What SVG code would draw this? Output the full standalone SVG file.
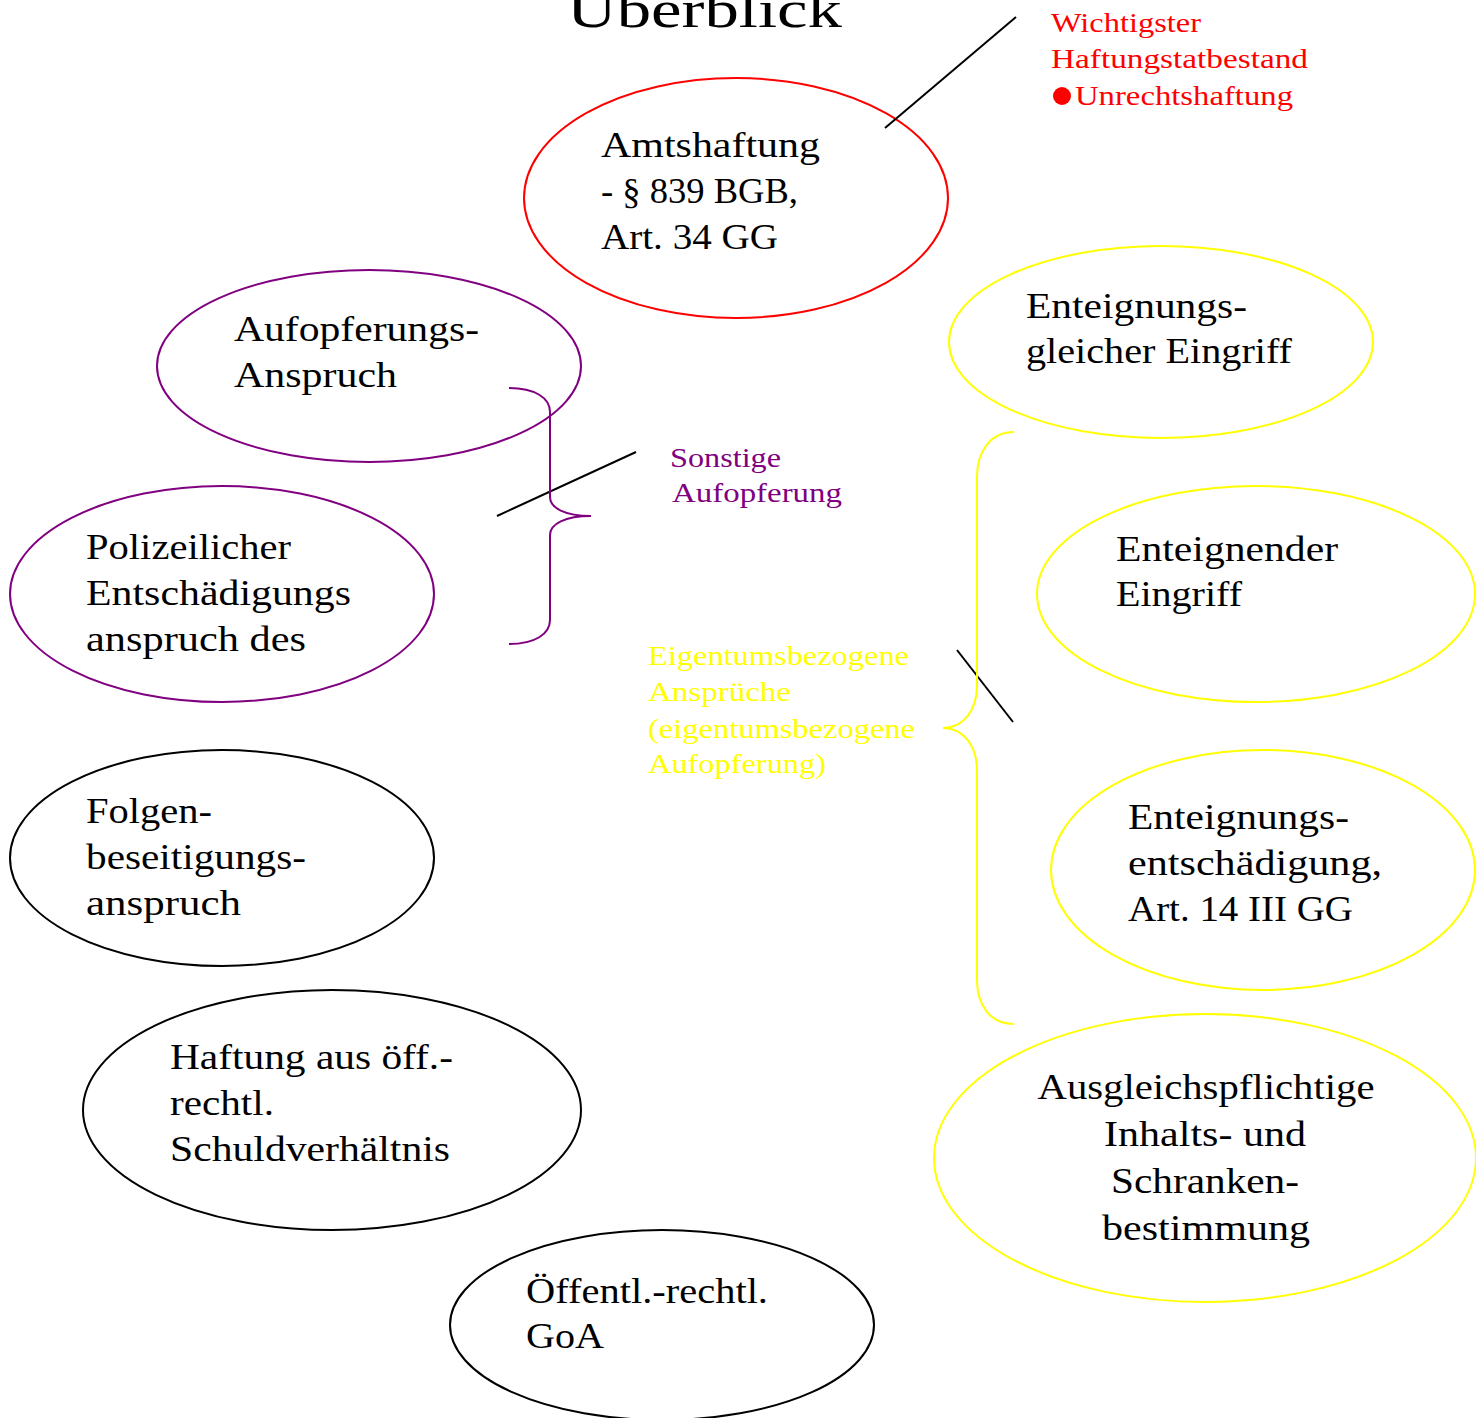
<svg xmlns="http://www.w3.org/2000/svg" width="1476" height="1418" viewBox="0 0 1476 1418">
<style>
.n{font-family:"Liberation Serif","Times New Roman",serif;font-size:36px;fill:#000}
.s{font-family:"Liberation Serif","Times New Roman",serif;font-size:27px}
.e{fill:none;stroke-width:2}
.red{stroke:#FF0000}.pur{stroke:#800080}.yel{stroke:#FFFF00}.blk{stroke:#000}
</style>
<rect width="1476" height="1418" fill="#fff"/>
<text x="567" y="27" font-family="Liberation Serif, serif" font-size="52" textLength="275" lengthAdjust="spacingAndGlyphs">Überblick</text>
<g id="amtshaftung">
<ellipse class="e red" cx="736" cy="198" rx="212" ry="120"/>
<text class="n"><tspan x="601" y="157" textLength="219" lengthAdjust="spacingAndGlyphs">Amtshaftung</tspan><tspan x="601" y="203" textLength="197" lengthAdjust="spacingAndGlyphs">- § 839 BGB,</tspan><tspan x="601" y="249" textLength="177" lengthAdjust="spacingAndGlyphs">Art. 34 GG</tspan></text>
</g>
<g id="aufopferung">
<ellipse class="e pur" cx="369" cy="366" rx="212" ry="96"/>
<text class="n"><tspan x="234" y="341" textLength="245" lengthAdjust="spacingAndGlyphs">Aufopferungs-</tspan><tspan x="234" y="387" textLength="163" lengthAdjust="spacingAndGlyphs">Anspruch</tspan></text>
</g>
<g id="polizei">
<ellipse class="e pur" cx="222" cy="594" rx="212" ry="108"/>
<text class="n"><tspan x="86" y="559" textLength="205" lengthAdjust="spacingAndGlyphs">Polizeilicher</tspan><tspan x="86" y="605" textLength="265" lengthAdjust="spacingAndGlyphs">Entschädigungs</tspan><tspan x="86" y="651" textLength="220" lengthAdjust="spacingAndGlyphs">anspruch des</tspan></text>
</g>
<g id="folgen">
<ellipse class="e blk" cx="222" cy="858" rx="212" ry="108"/>
<text class="n"><tspan x="86" y="823" textLength="126" lengthAdjust="spacingAndGlyphs">Folgen-</tspan><tspan x="86" y="869" textLength="220" lengthAdjust="spacingAndGlyphs">beseitigungs-</tspan><tspan x="86" y="915" textLength="155" lengthAdjust="spacingAndGlyphs">anspruch</tspan></text>
</g>
<g id="haftung">
<ellipse class="e blk" cx="332" cy="1110" rx="249" ry="120"/>
<text class="n"><tspan x="170" y="1069" textLength="283" lengthAdjust="spacingAndGlyphs">Haftung aus öff.-</tspan><tspan x="170" y="1115" textLength="104" lengthAdjust="spacingAndGlyphs">rechtl.</tspan><tspan x="170" y="1161" textLength="280" lengthAdjust="spacingAndGlyphs">Schuldverhältnis</tspan></text>
</g>
<g id="goa">
<ellipse class="e blk" cx="662" cy="1325" rx="212" ry="95"/>
<text class="n"><tspan x="526" y="1303" textLength="242" lengthAdjust="spacingAndGlyphs">Öffentl.-rechtl.</tspan><tspan x="526" y="1348" textLength="78" lengthAdjust="spacingAndGlyphs">GoA</tspan></text>
</g>
<g id="enteignungsgleich">
<ellipse class="e yel" cx="1161" cy="342" rx="212" ry="96"/>
<text class="n"><tspan x="1026" y="318" textLength="221" lengthAdjust="spacingAndGlyphs">Enteignungs-</tspan><tspan x="1026" y="363" textLength="266" lengthAdjust="spacingAndGlyphs">gleicher Eingriff</tspan></text>
</g>
<g id="enteignend">
<ellipse class="e yel" cx="1256" cy="594" rx="219" ry="108"/>
<text class="n"><tspan x="1116" y="561" textLength="222" lengthAdjust="spacingAndGlyphs">Enteignender</tspan><tspan x="1116" y="606" textLength="126" lengthAdjust="spacingAndGlyphs">Eingriff</tspan></text>
</g>
<g id="enteignungsentschaedigung">
<ellipse class="e yel" cx="1263" cy="870" rx="212" ry="120"/>
<text class="n"><tspan x="1128" y="829" textLength="221" lengthAdjust="spacingAndGlyphs">Enteignungs-</tspan><tspan x="1128" y="875" textLength="254" lengthAdjust="spacingAndGlyphs">entschädigung,</tspan><tspan x="1128" y="921" textLength="225" lengthAdjust="spacingAndGlyphs">Art. 14 III GG</tspan></text>
</g>
<g id="ausgleich">
<ellipse class="e yel" cx="1205" cy="1158" rx="271" ry="144"/>
<text class="n" text-anchor="middle"><tspan x="1206" y="1099" textLength="337" lengthAdjust="spacingAndGlyphs">Ausgleichspflichtige</tspan><tspan x="1205" y="1146" textLength="202" lengthAdjust="spacingAndGlyphs">Inhalts- und</tspan><tspan x="1205" y="1193" textLength="188" lengthAdjust="spacingAndGlyphs">Schranken-</tspan><tspan x="1206" y="1240" textLength="208" lengthAdjust="spacingAndGlyphs">bestimmung</tspan></text>
</g>
<g id="label-wichtig">
<text class="s" fill="#FF0000"><tspan x="1051" y="32" textLength="150" lengthAdjust="spacingAndGlyphs">Wichtigster</tspan><tspan x="1051" y="68" textLength="257" lengthAdjust="spacingAndGlyphs">Haftungstatbestand</tspan><tspan x="1075" y="105" textLength="218" lengthAdjust="spacingAndGlyphs">Unrechtshaftung</tspan></text>
<circle cx="1062" cy="96" r="9" fill="#FF0000"/>
</g>
<g id="label-sonstige">
<text class="s" fill="#800080"><tspan x="670" y="467" textLength="111" lengthAdjust="spacingAndGlyphs">Sonstige</tspan><tspan x="672" y="502" textLength="170" lengthAdjust="spacingAndGlyphs">Aufopferung</tspan></text>
</g>
<g id="label-eigentum">
<text class="s" fill="#FFFF00"><tspan x="648" y="665" textLength="261" lengthAdjust="spacingAndGlyphs">Eigentumsbezogene</tspan><tspan x="648" y="701" textLength="143" lengthAdjust="spacingAndGlyphs">Ansprüche</tspan><tspan x="648" y="738" textLength="267" lengthAdjust="spacingAndGlyphs">(eigentumsbezogene</tspan><tspan x="648" y="773" textLength="178" lengthAdjust="spacingAndGlyphs">Aufopferung)</tspan></text>
</g>
<g id="connectors" fill="none" stroke-width="2">
<line x1="885" y1="128" x2="1016" y2="17" stroke="#000"/>
<line x1="497" y1="516" x2="636" y2="452" stroke="#000"/>
<line x1="957" y1="650" x2="1013" y2="722" stroke="#000"/>
<path d="M509,388 C535,388 550,398 550,412 L550,497 C550,508 565,516 591,516 C565,516 550,524 550,535 L550,620 C550,634 535,644 509,644" stroke="#800080"/>
<path d="M1014,432 C990,432 977,452 977,477 L977,685 C977,712 962,728 943,728 C962,728 977,744 977,771 L977,980 C977,1005 990,1024 1014,1024" stroke="#FFFF00"/>
</g>
</svg>
